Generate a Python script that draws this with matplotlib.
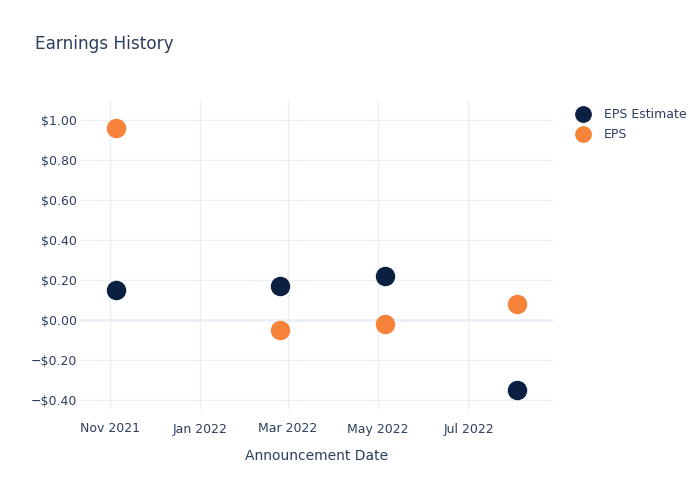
import matplotlib
matplotlib.use("Agg")
import matplotlib.pyplot as plt
import pandas as pd

dates = ["2021-11-05", "2022-02-24", "2022-05-06", "2022-08-03"]
eps_estimate = [0.15, 0.17, 0.22, -0.35]
eps_actual = [0.96, -0.05, -0.02, 0.08]
yticks = [-0.4, -0.2, 0.0, 0.2, 0.4, 0.6, 0.8, 1.0]
xticks = ["2021-11-01", "2022-01-01", "2022-03-01", "2022-05-01", "2022-07-01"]

text_color = "#2a3f5f"
grid_color = "#ebf0f8"
navy = "#0b1f41"
orange = "#f7833a"

d = pd.to_datetime(dates)
fig = plt.figure(figsize=(7, 5), dpi=100)
ax = fig.add_axes([80/700, 90/500, 473/700, 310/500])

ax.plot(d, eps_estimate, "o", color=navy, ms=13, label="EPS Estimate", zorder=3)
ax.plot(d, eps_actual, "o", color=orange, ms=13, label="EPS", zorder=3)

ax.set_xlim(pd.Timestamp("2021-10-12"), pd.Timestamp("2022-08-27"))
ax.set_ylim(-0.45, 1.10)
ax.set_yticks(yticks)
ax.set_yticklabels([("\u2212" if v < 0 else "") + f"${abs(v):.2f}" for v in yticks])
xt = pd.to_datetime(xticks)
ax.set_xticks(xt)
ax.set_xticklabels([t.strftime("%b %Y") for t in xt])

for s in ax.spines.values():
    s.set_visible(False)
ax.grid(True, color=grid_color, lw=1, zorder=0)
ax.axhline(0, color=grid_color, lw=2, zorder=1)
ax.tick_params(length=0, colors=text_color, labelsize=9)
ax.tick_params(axis="y", pad=2)
ax.tick_params(axis="x", pad=9)
ax.set_xlabel("Announcement Date", color=text_color, fontsize=10, labelpad=10)

fig.text(35/700, 1 - 44/500, "Earnings History", color=text_color, fontsize=12.2, va="center", ha="left")

leg = fig.legend(loc="upper left", bbox_to_anchor=(575/700, 1 - 108/500), frameon=False,
                 fontsize=9, labelcolor=text_color, handletextpad=1.0, labelspacing=0.55,
                 borderaxespad=0, borderpad=0, handlelength=1.3, markerscale=0.85)

fig.savefig("out.png", dpi=100)
